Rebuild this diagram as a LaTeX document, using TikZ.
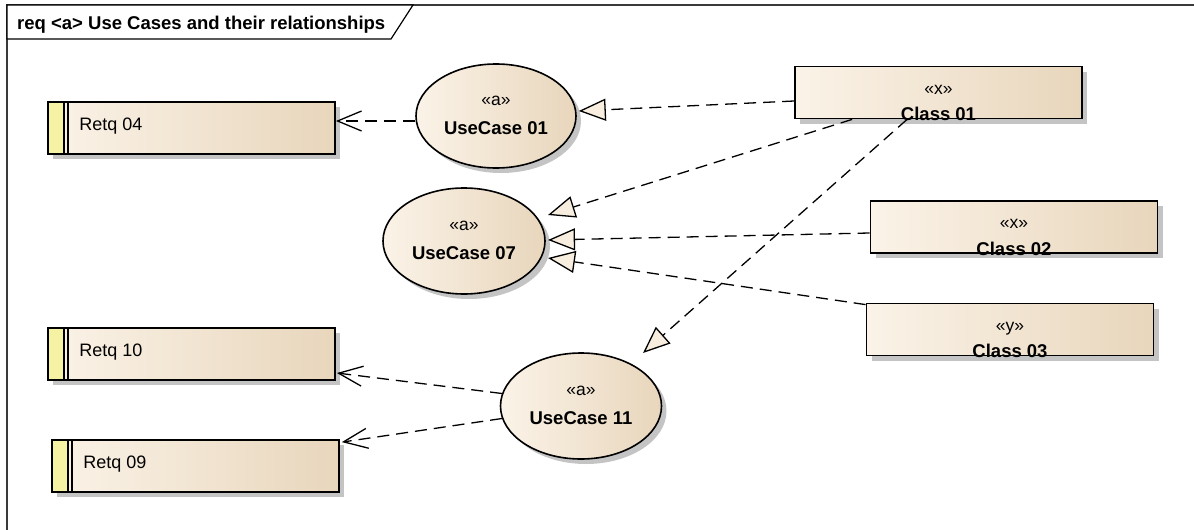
\documentclass[tikz,border=0pt]{standalone}
\usepackage{fontspec}
\setmainfont{Liberation Sans}
\usetikzlibrary{arrows.meta,shapes.geometric,shadows,calc}

\definecolor{ealight}{HTML}{FBF3E8}
\definecolor{eamid}{HTML}{F7EBDB}
\definecolor{eadark}{HTML}{E8D6BC}
\definecolor{reqbar}{HTML}{F6F2A4}
\definecolor{shadowgray}{HTML}{C4C4C4}
\definecolor{framegray}{HTML}{3A3A3A}
\definecolor{trifill}{HTML}{F8EEDF}

\begin{document}
\begin{tikzpicture}[x=1pt,y=-1pt,
  eashade/.style={left color=ealight, middle color=eamid, right color=eadark},
  eashadow/.style={drop shadow={shadow xshift=5pt,shadow yshift=-5pt,fill=shadowgray,opacity=1}},
  reqbox/.style={rectangle, draw=black, line width=1.8pt, eashade, eashadow,
    minimum width=287pt, minimum height=52pt, inner sep=0pt,
    path picture={
      \fill[reqbar] (path picture bounding box.north west) rectangle
        ([xshift=16pt]path picture bounding box.south west);
      \draw[line width=1.6pt] ([xshift=16pt]path picture bounding box.north west) --
        ([xshift=16pt]path picture bounding box.south west);
      \draw[line width=1.6pt] ([xshift=20pt]path picture bounding box.north west) --
        ([xshift=20pt]path picture bounding box.south west);
    }},
  usecase/.style={ellipse, draw=black, line width=1.6pt, eashade, eashadow, inner sep=0pt},
  classbox/.style={rectangle, draw=black, line width=1.8pt, eashade, eashadow,
    minimum width=287pt, minimum height=52pt, inner sep=0pt},
  plaintext/.style={inner sep=0pt, font=\fontsize{18}{22}\selectfont},
  stereo/.style={plaintext, anchor=base, font=\fontsize{17.5}{21}\selectfont},
  ename/.style={plaintext, anchor=base, font=\bfseries\fontsize{18.5}{22}\selectfont},
  reqtext/.style={plaintext, anchor=base west},
  dep/.style={dash pattern=on 12pt off 7pt, line width=1.3pt,
    -{Straight Barb[length=24pt,width=20pt]}},
  real/.style={dash pattern=on 12pt off 7pt, line width=1.3pt,
    -{Triangle[length=27pt,width=22pt,fill=trifill]}}
]
\useasboundingbox (0,0) rectangle (1194,530);

% diagram frame and its title tab
\draw[framegray, line width=1.3pt] (1194,5) -- (7,5) -- (7,530);
\draw[black, line width=1.2pt, fill=white] (7,5) -- (413,5) -- (391,39) -- (7,39) -- cycle;
\node[plaintext, anchor=base west, font=\bfseries\fontsize{18.5}{22}\selectfont] (title) at (17,29)
  {req <a> Use Cases and their relationships};

% requirements
\node[reqbox] (retq04) at (191.5,128) {};
\node[reqbox] (retq10) at (191.5,354) {};
\node[reqbox] (retq09) at (195.5,466) {};
\node[reqtext] (retq04-t) at ($(retq04.west)+(32,2)$) {Retq 04};
\node[reqtext] (retq10-t) at ($(retq10.west)+(32,2)$) {Retq 10};
\node[reqtext] (retq09-t) at ($(retq09.west)+(32,2)$) {Retq 09};

% use cases
\node[usecase, minimum width=160pt, minimum height=104pt] (uc01) at (496,116) {};
\node[usecase, minimum width=162pt, minimum height=106pt] (uc07) at (464,241) {};
\node[usecase, minimum width=161pt, minimum height=106pt] (uc11) at (581,406) {};
\foreach \uc/\name in {uc01/UseCase 01, uc07/UseCase 07, uc11/UseCase 11}{
  \node[stereo] (\uc-st) at ($(\uc.center)+(0,-11)$) {«a»};
  \node[ename] (\uc-nm) at ($(\uc.center)+(0,18)$) {\name};
}

% classes
\node[classbox] (class01) at (938.5,92.5) {};
\node[classbox] (class02) at (1014,227) {};
\node[classbox] (class03) at (1010,329.5) {};
\foreach \cl/\st/\name in {class01/x/Class 01, class02/x/Class 02, class03/y/Class 03}{
  \node[stereo] (\cl-st) at ($(\cl.north)+(0,28.5)$) {«\st»};
  \node[ename] (\cl-nm) at ($(\cl.south)+(0,1.5)$) {\name};
}

% realizations
\draw[real] ($(class01.west)+(0,8.5)$) -- ($(uc01.east)+(2,-5)$);
\draw[real] ($(class01.south west)+(58,0)$) -- ($(uc07.center)+(84,-26)$);
\draw[real] ($(class01.south west)+(113,0)$) -- ($(uc11.center)+(62,-53)$);
\draw[real] ($(class02.west)+(0,6)$) -- ($(uc07.center)+(84,-1)$);
\draw[real] ($(class03.north west)+(0,2)$) -- ($(uc07.center)+(84,17)$);

% dependencies on requirements
\draw[dep] ($(uc01.west)+(0,5)$) -- ($(retq04.east)+(0,-7)$);
\draw[dep] ($(uc11.center)+(-79,-12.5)$) -- ($(retq10.east)+(1,19)$);
\draw[dep] ($(uc11.center)+(-79,12.5)$) -- ($(retq09.north east)+(2,3)$);
\end{tikzpicture}
\end{document}
